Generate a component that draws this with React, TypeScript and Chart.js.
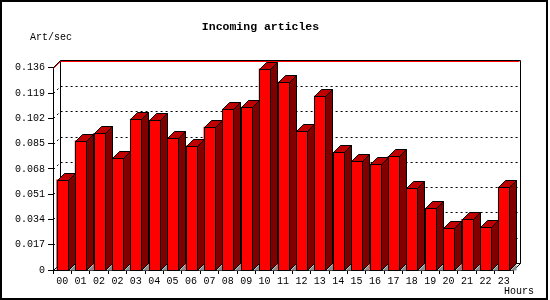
import React, { useEffect, useRef } from 'react';
import { Chart, registerables } from 'chart.js';

Chart.register(...registerables);

const hourLabels = ['00', '01', '02', '02', '03', '04', '05', '06', '07', '08', '09', '10', '11', '12', '13', '14', '15', '16', '17', '18', '19', '20', '21', '22', '23'];
const incomingRates = [0.0606, 0.0869, 0.092, 0.0752, 0.1015, 0.1008, 0.0887, 0.0835, 0.0961, 0.1082, 0.1095, 0.1353, 0.1264, 0.0934, 0.1169, 0.0792, 0.0732, 0.0714, 0.0765, 0.055, 0.0415, 0.0281, 0.0341, 0.0287, 0.0557];
const yTickValues = [0, 0.017, 0.034, 0.051, 0.068, 0.085, 0.102, 0.119, 0.136];
const yTickLabels = ['0', '0.017', '0.034', '0.051', '0.068', '0.085', '0.102', '0.119', '0.136'];
const maxRate = 0.136;
const titleText = 'Incoming articles';
const yAxisText = 'Art/sec';
const xAxisText = 'Hours';

const DEPTH = 7;
const FONT = "'Liberation Mono', 'DejaVu Sans Mono', monospace";

const threeD = {
  id: 'threeD',
  beforeDraw(chart: any) {
    const { ctx, width, height } = chart;
    ctx.save();
    ctx.fillStyle = '#ffffff';
    ctx.fillRect(0, 0, width, height);
    ctx.strokeStyle = '#000000';
    ctx.lineWidth = 2;
    ctx.strokeRect(1, 1, width - 4, height - 2);
    ctx.restore();
  },
  beforeDatasetsDraw(chart: any) {
    const { ctx, chartArea: a, scales } = chart;
    const y = scales.y;
    const D = DEPTH;
    const L = Math.round(a.left) + 0.5;
    const R = Math.round(a.right) + 0.5;
    const B = Math.round(a.bottom) + 0.5;
    const T = Math.round(y.getPixelForValue(maxRate)) + 0.5;
    ctx.save();
    ctx.lineWidth = 1;
    ctx.strokeStyle = '#000000';
    ctx.setLineDash([2, 3]);
    for (const v of yTickValues) {
      if (v === 0 || v === maxRate) continue;
      const py = Math.round(y.getPixelForValue(v)) + 0.5;
      ctx.beginPath();
      ctx.moveTo(L, py);
      ctx.lineTo(L + D, py - D);
      ctx.lineTo(R + D, py - D);
      ctx.stroke();
    }
    ctx.setLineDash([]);
    ctx.beginPath();
    ctx.moveTo(L, T - 1);
    ctx.lineTo(L + D, T - 1 - D);
    ctx.lineTo(R + D, T - 1 - D);
    ctx.lineTo(R + D, B - D);
    ctx.lineTo(R, B);
    ctx.moveTo(L + D, T - 1 - D);
    ctx.lineTo(L + D, B - D);
    ctx.lineTo(R + D, B - D);
    ctx.moveTo(L, B);
    ctx.lineTo(L + D, B - D);
    ctx.stroke();
    ctx.strokeStyle = '#ff0000';
    ctx.beginPath();
    ctx.moveTo(L, T);
    ctx.lineTo(L + D, T - D);
    ctx.lineTo(R + D - 1, T - D);
    ctx.stroke();
    ctx.restore();
  },
  afterDatasetsDraw(chart: any) {
    const { ctx } = chart;
    const D = DEPTH;
    const meta = chart.getDatasetMeta(0);
    ctx.save();
    ctx.lineWidth = 1;
    ctx.strokeStyle = '#000000';
    meta.data.forEach((bar: any) => {
      const p = bar.getProps(['x', 'y', 'base', 'width'], true);
      const xl = Math.round(p.x - p.width / 2) + 0.5;
      const xr = xl + Math.round(p.width);
      const top = Math.round(p.y) + 0.5;
      const base = Math.round(p.base) + 0.5;
      // front
      ctx.fillStyle = '#ff0000';
      ctx.fillRect(xl, top, xr - xl, base - top);
      ctx.strokeRect(xl, top, xr - xl, base - top);
      // side
      ctx.fillStyle = '#800000';
      ctx.beginPath();
      ctx.moveTo(xr, top);
      ctx.lineTo(xr + D, top - D);
      ctx.lineTo(xr + D, base - D);
      ctx.lineTo(xr, base);
      ctx.closePath();
      ctx.fill();
      ctx.stroke();
      // floor shadow
      ctx.fillStyle = '#8c8c8c';
      ctx.beginPath();
      ctx.moveTo(xr + 1, base);
      ctx.lineTo(xr + D, base - D + 1);
      ctx.lineTo(xr + D, base);
      ctx.closePath();
      ctx.fill();
      // top
      ctx.fillStyle = '#c00000';
      ctx.beginPath();
      ctx.moveTo(xl, top);
      ctx.lineTo(xl + D, top - D);
      ctx.lineTo(xr + D, top - D);
      ctx.lineTo(xr, top);
      ctx.closePath();
      ctx.fill();
      ctx.stroke();
    });
    ctx.restore();
  },
  afterDraw(chart: any) {
    const { ctx } = chart;
    ctx.save();
    ctx.fillStyle = '#000000';
    ctx.font = `10px ${FONT}`;
    ctx.textBaseline = 'middle';
    ctx.textAlign = 'left';
    ctx.fillText(yAxisText, 30, 37);
    ctx.fillText(xAxisText, 504, 291);
    ctx.restore();
  },
};

export default function App() {
  const canvasRef = useRef<HTMLCanvasElement | null>(null);

  useEffect(() => {
    document.body.style.margin = '0';
    const canvas = canvasRef.current;
    if (!canvas) return;
    const chart = new Chart(canvas, {
      type: 'bar',
      data: {
        labels: hourLabels,
        datasets: [
          {
            data: incomingRates,
            backgroundColor: '#ff0000',
            borderWidth: 0,
            barThickness: 11,
          },
        ],
      },
      options: {
        animation: false,
        responsive: false,
        devicePixelRatio: 1,
        layout: { padding: { left: 8, right: 37, top: 0, bottom: 10 } },
        plugins: {
          legend: { display: false },
          tooltip: { enabled: false },
          title: {
            display: true,
            text: titleText,
            color: '#000000',
            font: { family: FONT, size: 11.5, weight: 'bold' },
            padding: { top: 20, bottom: 34 },
          },
        },
        scales: {
          x: {
            type: 'category',
            offset: true,
            grid: { display: true, drawOnChartArea: false, drawTicks: true, tickLength: 4, color: '#000000', offset: true },
            border: { display: true, color: '#000000', width: 1 },
            ticks: { font: { family: FONT, size: 10 }, color: '#000000', padding: 1, maxRotation: 0, autoSkip: false },
            afterFit(s: any) {
              s.height = 20;
            },
          },
          y: {
            min: 0,
            max: maxRate,
            grid: { display: true, drawOnChartArea: false, drawTicks: true, tickLength: 5, color: '#000000' },
            border: { display: true, color: '#000000', width: 1 },
            ticks: {
              font: { family: FONT, size: 10 },
              color: '#000000',
              padding: 3,
              callback: (_v: any, i: number) => yTickLabels[i],
            },
            afterBuildTicks(s: any) {
              s.ticks = yTickValues.map((v) => ({ value: v }));
            },
            afterFit(s: any) {
              s.width = 45;
            },
          },
        },
      } as any,
      plugins: [threeD],
    });
    return () => chart.destroy();
  }, []);

  return (
    <div style={{ width: 550, height: 300 }}>
      <canvas ref={canvasRef} width={550} height={300} />
    </div>
  );
}
